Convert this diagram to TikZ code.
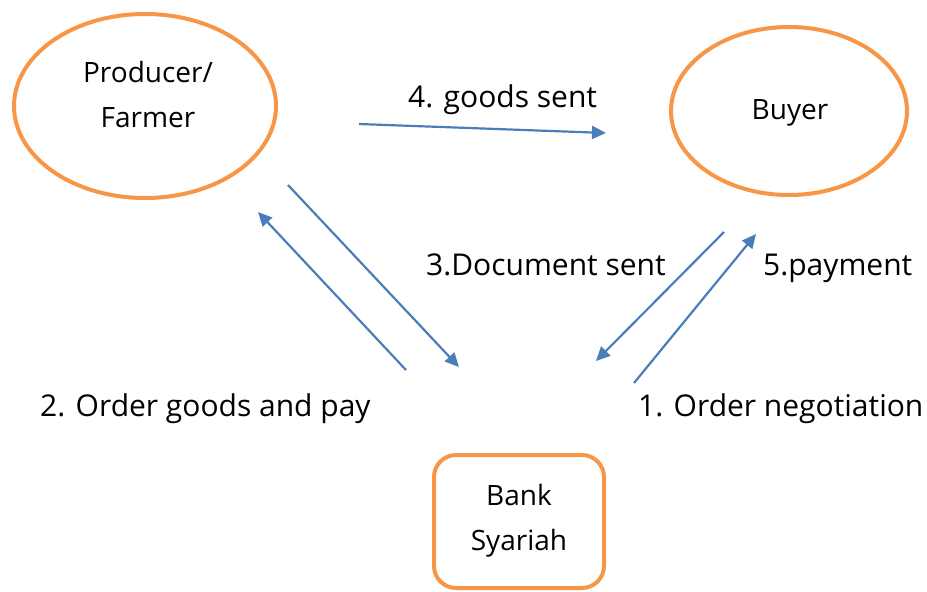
\documentclass[tikz,border=0pt]{standalone}
\usepackage{fontspec}
\setmainfont{Open Sans}
\usetikzlibrary{shapes.geometric,arrows.meta}
\definecolor{partyorange}{HTML}{F79646}
\definecolor{flowblue}{HTML}{4A7EBB}
\tikzset{
  party/.style={ellipse,draw=partyorange,line width=4pt,inner sep=0pt},
  bankbox/.style={rectangle,rounded corners=22pt,draw=partyorange,line width=4pt},
  partytext/.style={align=center,inner sep=0pt,anchor=base,font=\fontsize{28}{45}\selectfont},
  flow/.style={draw=flowblue,line width=2.2pt,-{Triangle[length=14pt,width=13pt]}},
  steplabel/.style={font=\fontsize{30}{36}\selectfont,inner sep=0pt,anchor=base west}
}
\begin{document}
\begin{tikzpicture}[x=1pt,y=-1pt]
\useasboundingbox (0,0) rectangle (927,592);
% parties
\node[party,minimum width=262pt,minimum height=184pt] (farmer) at (145,106) {};
\node[party,minimum width=236pt,minimum height=168pt] (buyer) at (789,111) {};
\node[bankbox,minimum width=170pt,minimum height=133pt] (bank) at (519,521.5) {};
% party names (base anchor sits on the last line)
\node[partytext] (farmertext) at (148,127) {Producer/\\Farmer};
\node[partytext] (buyertext) at (790,119) {Buyer};
\node[partytext] (banktext) at (519,550) {Bank\\Syariah};
% flow end points
\coordinate (g1) at (359,124);   \coordinate (g2) at (606,133);
\coordinate (d1) at (288,185);   \coordinate (d2) at (459,367);
\coordinate (o1) at (406,370);   \coordinate (o2) at (258,212);
\coordinate (b1) at (724,232);   \coordinate (b2) at (596,361);
\coordinate (p1) at (634,383);   \coordinate (p2) at (756,234);
% flows
\draw[flow] (g1) -- (g2);
\draw[flow] (d1) -- (d2);
\draw[flow] (o1) -- (o2);
\draw[flow] (b1) -- (b2);
\draw[flow] (p1) -- (p2);
% step labels
\node[steplabel] (l4) at (408,107) {4. goods sent};
\node[steplabel] (l3) at (426,275) {3.Document sent};
\node[steplabel] (l5) at (763,275) {5.payment};
\node[steplabel] (l2) at (40,416) {2. Order goods and pay};
\node[steplabel] (l1) at (638,416) {1. Order negotiation};
\end{tikzpicture}
\end{document}
